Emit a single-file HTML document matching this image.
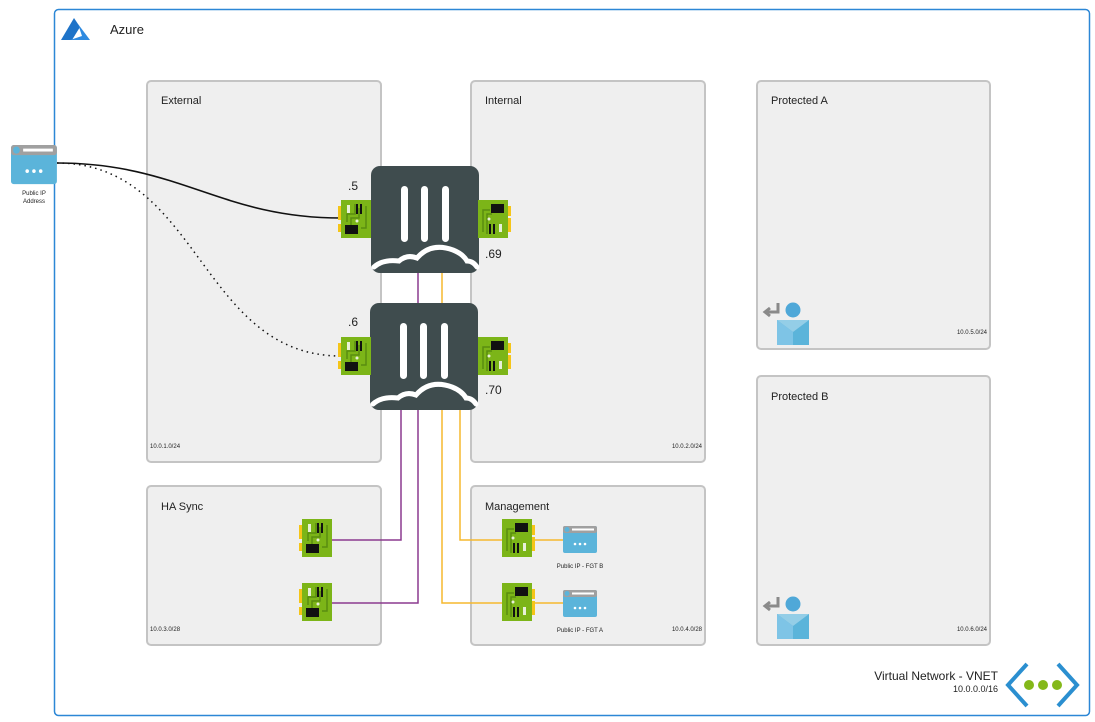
<!DOCTYPE html>
<html><head><meta charset="utf-8"><style>
html,body{margin:0;padding:0;background:#fff;width:1095px;height:722px;overflow:hidden}
svg{display:block}
text{font-family:"Liberation Sans",sans-serif;fill:#222}
</style></head><body>
<svg width="1095" height="722" viewBox="0 0 1095 722" xmlns="http://www.w3.org/2000/svg">
<defs>
<g id="nicL">
 <rect x="-3" y="6" width="4" height="14" fill="#f5c518"/>
 <rect x="-3" y="24" width="4" height="8" fill="#f5c518"/>
 <rect x="0" y="0" width="30" height="38" fill="#7cb518"/>
 <path d="M6 22 V14 H14 V4 M10 26 V18 H18 V8 M20 28 H25 V6" stroke="#5a8d10" stroke-width="1.5" fill="none"/>
 <rect x="6" y="5" width="3" height="8" fill="#e8f0d8"/>
 <rect x="15" y="4" width="2" height="10" fill="#111"/>
 <rect x="19" y="4" width="2" height="10" fill="#111"/>
 <circle cx="16" cy="21" r="1.5" fill="#e8f0d8"/>
 <rect x="4" y="25" width="13" height="9" fill="#111"/>
</g>
<g id="nicR">
 <rect x="29" y="6" width="4" height="10" fill="#f5c518"/>
 <rect x="29" y="18" width="4" height="14" fill="#f5c518"/>
 <rect x="0" y="0" width="30" height="38" fill="#7cb518"/>
 <path d="M5 32 V10 H12 M9 34 V14 H14" stroke="#5a8d10" stroke-width="1.5" fill="none"/>
 <rect x="13" y="4" width="13" height="9" fill="#111"/>
 <circle cx="11" cy="19" r="1.5" fill="#e8f0d8"/>
 <rect x="11" y="24" width="2" height="10" fill="#111"/>
 <rect x="15" y="24" width="2" height="10" fill="#111"/>
 <rect x="21" y="24" width="3" height="8" fill="#e8f0d8"/>
</g>
<g id="fgt">
 <rect x="0" y="0" width="108" height="107" rx="9" fill="#3f4c4e"/>
 <rect x="30" y="20" width="7" height="56" rx="3.5" fill="#fff"/>
 <rect x="50" y="20" width="7" height="56" rx="3.5" fill="#fff"/>
 <rect x="71" y="20" width="7" height="56" rx="3.5" fill="#fff"/>
 <path d="M3 101 Q12 93 28 95 Q36 88 46 92 Q60 76 82 84 Q92 88 96 95 Q102 95 106 101" stroke="#fff" stroke-width="5" fill="none" stroke-linecap="round"/>
</g>
<g id="pip">
 <rect x="0" y="0" width="34" height="27" rx="2" fill="#5bb4da"/>
 <rect x="0" y="0" width="34" height="7" rx="2" fill="#a0a0a0"/>
 <circle cx="4" cy="3.5" r="2.5" fill="#5bb4da"/>
 <rect x="9" y="2.5" width="22" height="2" fill="#fff"/>
 <circle cx="12" cy="18" r="1.3" fill="#fff"/><circle cx="17" cy="18" r="1.3" fill="#fff"/><circle cx="22" cy="18" r="1.3" fill="#fff"/>
</g>
<g id="user">
 <path d="M18 3 V12 H6 M10 8 L5 12 L10 16" stroke="#8a8a8a" stroke-width="3" fill="none"/>
 <circle cx="33" cy="10" r="7.5" fill="#4fa8d8"/>
 <path d="M17 20 H49 V45 H17 Z" fill="#5bb4da"/>
 <path d="M17 20 L33 32 L49 20" fill="#fff" opacity="0.35"/>
 <path d="M17 20 V45 H33 V32 Z" fill="#7ec4e6"/>
</g>
</defs>

<rect x="54.5" y="9.5" width="1035" height="706" rx="4" fill="#fff" stroke="#2c87d6" stroke-width="1.5"/>
<path d="M74 18 L61 40 H72 L80 27 Z" fill="#1e73c8"/>
<path d="M78 24 L90 40 H70 L82 36 Z" fill="#2f8ae0"/>
<text x="110" y="34" font-size="13">Azure</text>

<g fill="#efefef" stroke="#c4c4c4" stroke-width="2">
<rect x="147" y="81" width="234" height="381" rx="4"/>
<rect x="471" y="81" width="234" height="381" rx="4"/>
<rect x="757" y="81" width="233" height="268" rx="4"/>
<rect x="757" y="376" width="233" height="269" rx="4"/>
<rect x="147" y="486" width="234" height="159" rx="4"/>
<rect x="471" y="486" width="234" height="159" rx="4"/>
</g>
<g font-size="11">
<text x="161" y="104">External</text>
<text x="485" y="104">Internal</text>
<text x="771" y="104">Protected A</text>
<text x="771" y="400">Protected B</text>
<text x="161" y="510">HA Sync</text>
<text x="485" y="510">Management</text>
</g>
<g font-size="6">
<text x="150" y="448">10.0.1.0/24</text>
<text x="702" y="448" text-anchor="end">10.0.2.0/24</text>
<text x="987" y="334" text-anchor="end">10.0.5.0/24</text>
<text x="987" y="631" text-anchor="end">10.0.6.0/24</text>
<text x="150" y="631">10.0.3.0/28</text>
<text x="702" y="631" text-anchor="end">10.0.4.0/28</text>
</g>

<!-- connectors -->
<g fill="none" stroke-width="1.5">
<path d="M418 273 V303" stroke="#8b3a8f"/>
<path d="M442 273 V303" stroke="#f5b82e"/>
<path d="M401 410 V540 H332" stroke="#8b3a8f"/>
<path d="M418 410 V603 H332" stroke="#8b3a8f"/>
<path d="M460 410 V540 H502" stroke="#f5b82e"/>
<path d="M442 410 V603 H502" stroke="#f5b82e"/>
<path d="M532 540 H563" stroke="#f5b82e"/>
<path d="M532 603 H563" stroke="#f5b82e"/>
<path d="M57 163 C180 163 220 218 341 218" stroke="#111" stroke-width="1.6"/>
<path d="M57 163 C200 163 200 356 341 356" stroke="#111" stroke-dasharray="1.5 4"/>
</g>

<use href="#fgt" x="371" y="166"/>
<use href="#fgt" x="370" y="303"/>
<use href="#nicL" x="341" y="200"/>
<use href="#nicR" x="478" y="200"/>
<use href="#nicL" x="341" y="337"/>
<use href="#nicR" x="478" y="337"/>
<use href="#nicL" x="302" y="519"/>
<use href="#nicL" x="302" y="583"/>
<use href="#nicR" x="502" y="519"/>
<use href="#nicR" x="502" y="583"/>
<use href="#pip" x="563" y="526"/>
<use href="#pip" x="563" y="590"/>
<g font-size="6" text-anchor="middle">
<text x="580" y="568">Public IP - FGT B</text>
<text x="580" y="632">Public IP - FGT A</text>
</g>
<g font-size="12">
<text x="348" y="190">.5</text>
<text x="485" y="258">.69</text>
<text x="348" y="326">.6</text>
<text x="485" y="394">.70</text>
</g>

<!-- left public IP -->
<g transform="translate(11,145) scale(1.35,1.45)"><use href="#pip"/></g>
<g font-size="6" text-anchor="middle"><text x="34" y="195">Public IP</text><text x="34" y="203">Address</text></g>

<use href="#user" x="760" y="300"/>
<use href="#user" x="760" y="594"/>

<!-- VNET -->
<text x="998" y="680" font-size="12" text-anchor="end">Virtual Network - VNET</text>
<text x="998" y="692" font-size="9" text-anchor="end">10.0.0.0/16</text>
<path d="M1027 664 L1008 685 L1027 706 M1058 664 L1077 685 L1058 706" stroke="#2b8fd0" stroke-width="4" fill="none"/>
<circle cx="1029" cy="685" r="5" fill="#84b81a"/>
<circle cx="1043" cy="685" r="5" fill="#84b81a"/>
<circle cx="1057" cy="685" r="5" fill="#84b81a"/>
</svg>
</body></html>
